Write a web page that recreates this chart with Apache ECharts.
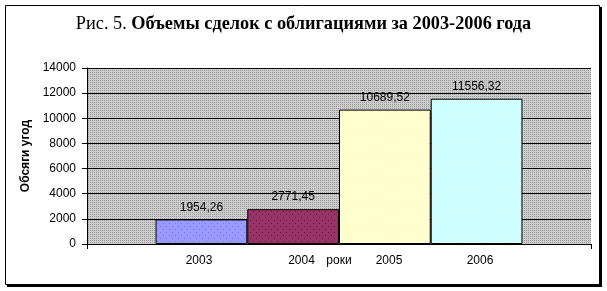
<!DOCTYPE html>
<html>
<head>
<meta charset="utf-8">
<script src="https://cdn.jsdelivr.net/npm/echarts@6/dist/echarts.min.js"></script>
<style>
html,body{margin:0;padding:0;background:#fff;}
#c{width:607px;height:291px;}
</style>
</head>
<body>
<div id="c"></div>
<script>
// ---- data ----
const years = ['2003', '2004', '2005', '2006'];
const volumes = [1954.26, 2771.45, 10689.52, 11556.32];
const yTicks = { min: 0, max: 14000, interval: 2000 };
const titlePrefix = 'Рис. 5. ';
const titleMain = 'Объемы сделок с облигациями за 2003-2006 года';
const yName = 'Обсяги угод';
const xName = 'роки';
// ---- styles ----
const barBase = ['#9999ff', '#993366', '#ffffcc', '#ccffff'];
const barDot = ['#7a7ae6', '#5c1f3d', '#ffffff', '#ffffff'];
const yearLabelX = [199, 301.5, 389, 480];

function pattern(base, dot, size, dots) {
  const c = document.createElement('canvas');
  c.width = size; c.height = size;
  const g = c.getContext('2d');
  g.fillStyle = base; g.fillRect(0, 0, size, size);
  g.fillStyle = dot;
  dots.forEach(p => g.fillRect(p[0], p[1], 1, 1));
  return { image: c, repeat: 'repeat' };
}
const gridBg = pattern('#cdcdcd', '#999999', 2, [[0, 0]]);

const chart = echarts.init(document.getElementById('c'), null, { renderer: 'canvas' });
const series = years.map((y, i) => ({
  name: y,
  type: 'bar',
  data: [volumes[i]],
  barGap: '0%',
  barCategoryGap: '27.2%',
  itemStyle: {
    color: pattern(barBase[i], barDot[i], 6, [[1, 1], [4, 4]]),
    borderColor: '#000',
    borderWidth: 1
  },
  label: {
    show: true,
    position: 'top',
    distance: 6,
    color: '#000',
    fontFamily: 'Liberation Sans',
    fontSize: 12,
    formatter: p => String(p.value).replace('.', ',')
  },
  emphasis: { disabled: true },
  animation: false
}));

const graphics = [
  { type: 'rect', shape: { x: 7, y: 7, width: 595, height: 280 }, style: { fill: '#000' }, z: -10 },
  { type: 'rect', shape: { x: 5.5, y: 5.5, width: 594, height: 279 }, style: { fill: '#fff', stroke: '#000', lineWidth: 1 }, z: -9 },
  {
    type: 'text', left: 'center', top: 15,
    style: {
      text: '{n|' + titlePrefix + '}{b|' + titleMain + '}',
      rich: {
        n: { fontFamily: 'Liberation Serif', fontSize: 18.3, fontWeight: 'normal', fill: '#000' },
        b: { fontFamily: 'Liberation Serif', fontSize: 18.3, fontWeight: 'bold', fill: '#000' }
      }
    }
  }
];
years.forEach((y, i) => {
  graphics.push({
    type: 'text', x: yearLabelX[i], y: 254.5,
    style: { text: y, fontFamily: 'Liberation Sans', fontSize: 12, fill: '#000', align: 'center', verticalAlign: 'top' }
  });
});

chart.setOption({
  animation: false,
  backgroundColor: '#fff',
  grid: {
    left: 87, right: 16, top: 68, bottom: 47,
    show: true, backgroundColor: gridBg, borderWidth: 0
  },
  xAxis: {
    type: 'category',
    data: [''],
    name: xName,
    nameLocation: 'middle',
    nameGap: 11,
    nameTextStyle: { fontFamily: 'Liberation Sans', fontSize: 12, color: '#000', verticalAlign: 'top' },
    axisLine: { lineStyle: { color: '#000', width: 1 } },
    axisTick: { show: true, length: 5, lineStyle: { color: '#000' } },
    axisLabel: { show: false },
    splitLine: { show: false }
  },
  yAxis: {
    type: 'value',
    min: yTicks.min, max: yTicks.max, interval: yTicks.interval,
    name: yName,
    nameLocation: 'middle',
    nameGap: 48,
    nameTextStyle: { fontFamily: 'Liberation Sans', fontSize: 12, fontWeight: 'bold', color: '#000' },
    axisLine: { show: true, lineStyle: { color: '#000', width: 1 } },
    axisTick: { show: true, length: 5, lineStyle: { color: '#000' } },
    axisLabel: { margin: 11, fontFamily: 'Liberation Sans', fontSize: 12, color: '#000', formatter: v => String(v) },
    splitLine: { show: true, lineStyle: { color: '#000', width: 1 } }
  },
  series: series,
  graphic: graphics
});
</script>
</body>
</html>
